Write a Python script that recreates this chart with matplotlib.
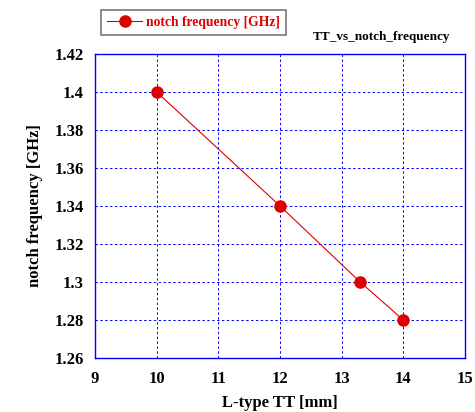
import matplotlib
matplotlib.use("Agg")
import matplotlib.pyplot as plt

tt = [10, 12, 13.3, 14]
freq = [1.40, 1.34, 1.30, 1.28]
xticks = [9, 10, 11, 12, 13, 14, 15]
yticks = [1.26, 1.28, 1.30, 1.32, 1.34, 1.36, 1.38, 1.40, 1.42]
ytick_labels = ["1.26", "1.28", "1.3", "1.32", "1.34", "1.36", "1.38", "1.4", "1.42"]

plt.rcParams['font.family'] = ['Liberation Serif', 'DejaVu Serif']
plt.rcParams['font.weight'] = 'bold'

fig = plt.figure(figsize=(4.75, 4.12), dpi=100)
ax = fig.add_axes([0.2, 0.131, 0.779, 0.738])
blue = '#0000ff'
ax.plot(tt, freq, color='#dd0000', lw=0.8, marker='o', ms=8,
        markerfacecolor='#dd0000', markeredgecolor='#dd0000', label='notch frequency [GHz]')
ax.set_xlim(9, 15)
ax.set_ylim(1.26, 1.42)
ax.set_xticks(xticks)
ax.set_yticks(yticks)
ax.set_yticklabels(ytick_labels)
ax.tick_params(axis='x', length=0, labelsize=12, pad=9)
ax.tick_params(axis='y', length=0, labelsize=12, pad=8)
for lab in ax.get_xticklabels() + ax.get_yticklabels():
    lab.set_fontweight('bold')
for s in ax.spines.values():
    s.set_color(blue)
    s.set_linewidth(1.0)
ax.grid(True, color=blue, linestyle=(0, (2.5, 2.5)), linewidth=0.7)
ax.set_xlabel('L-type TT [mm]', fontsize=12, fontweight='bold', labelpad=6)
ax.set_ylabel('notch frequency [GHz]', fontsize=12, fontweight='bold', labelpad=8)

leg = fig.legend(loc='upper left', bbox_to_anchor=(0.198, 0.992), fontsize=9.8,
                 frameon=True, fancybox=False, handlelength=2.6, handletextpad=0.3,
                 borderpad=0.45)
leg.get_frame().set_edgecolor('#555555')
leg.get_frame().set_linewidth(1.2)
for t in leg.get_texts():
    t.set_color('#dd0000')
    t.set_fontweight('bold')

fig.text(0.948, 0.91, 'TT_vs_notch_frequency', ha='right', va='center',
         fontsize=9.5, fontweight='bold')

fig.savefig('out.png', dpi=100)
